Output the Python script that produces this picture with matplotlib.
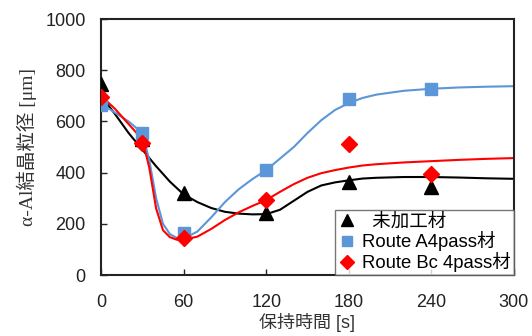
import matplotlib
matplotlib.use('Agg')
import matplotlib.pyplot as plt

# measured points
t_pts = [0, 30, 60, 120, 180, 240]
raw_pts = [745, 530, 320, 242, 363, 344]
route_a_pts = [664, 555, 164, 410, 688, 727]
route_bc_pts = [695, 516, 144, 293, 512, 395]

# fitted curves
t_black = [0, 10, 20, 30, 40, 50, 60, 70, 80, 90, 100, 110, 120, 130, 140,
           150, 160, 170, 180, 190, 200, 220, 240, 260, 280, 300]
v_black = [700, 630, 555, 490, 425, 365, 315, 285, 262, 247, 240, 237, 238,
           255, 290, 325, 350, 362, 370, 377, 380, 383, 383, 381, 378, 376]

t_blue = [0, 10, 20, 30, 35, 40, 45, 50, 55, 60, 70, 80, 90, 100, 110, 120,
          130, 140, 150, 160, 170, 180, 190, 200, 220, 240, 260, 280, 300]
v_blue = [670, 635, 600, 555, 450, 300, 200, 160, 145, 142, 170, 225, 285,
          335, 375, 410, 455, 500, 555, 605, 645, 672, 692, 705, 720, 728,
          733, 736, 738]

t_red = [0, 10, 20, 30, 35, 40, 45, 50, 55, 60, 70, 80, 90, 100, 110, 120,
         130, 140, 150, 160, 170, 180, 190, 200, 220, 240, 260, 280, 300]
v_red = [700, 650, 590, 530, 420, 260, 175, 148, 138, 138, 150, 180, 215,
         245, 270, 293, 325, 355, 380, 398, 410, 420, 428, 433, 440, 445,
         450, 454, 457]

BLUE = '#5b96d8'
RED = '#ff0000'

plt.rcParams['font.family'] = ['Liberation Sans', 'Noto Sans CJK JP']

fig = plt.figure(figsize=(5.32, 3.36), dpi=100)
ax = fig.add_axes([0.19, 0.1815, 0.776, 0.7615])

ax.plot(t_black, v_black, color='black', lw=1.5, zorder=2)
ax.plot(t_blue, v_blue, color=BLUE, lw=1.5, zorder=2)
ax.plot(t_red, v_red, color=RED, lw=1.5, zorder=2)

ax.plot(t_pts, raw_pts, '^', color='black', ms=10, ls='none', zorder=3,
        label='  未加工材')
ax.plot(t_pts, route_a_pts, 's', color=BLUE, ms=8.5, ls='none', zorder=4,
        label='Route A4pass材')
ax.plot(t_pts, route_bc_pts, 'D', color=RED, ms=8, ls='none', zorder=5,
        label='Route Bc 4pass材')

ax.set_xlim(0, 300)
ax.set_ylim(0, 1000)
ax.set_xticks([0, 60, 120, 180, 240, 300])
ax.set_yticks([0, 200, 400, 600, 800, 1000])
ax.tick_params(direction='in', labelsize=13, length=4, width=1,
               colors='#222222')
ax.tick_params(axis='x', pad=14)
ax.tick_params(axis='y', pad=11)
for s in ax.spines.values():
    s.set_linewidth(1.5)
    s.set_color('#222222')

ax.set_xlabel('保持時間 [s]', fontsize=13, labelpad=1, color='#333333')
ax.set_ylabel('α-Al結晶粒径 [μm]', fontsize=14, labelpad=6, color='#333333',
              family=['Liberation Serif', 'Noto Sans CJK JP'])

leg = ax.legend(loc='lower right', fontsize=13.3, frameon=True, fancybox=False,
                borderpad=0.15, handletextpad=0.35, labelspacing=0.05,
                handlelength=1.0, borderaxespad=0.0, markerscale=0.85)
leg.get_frame().set_edgecolor('#555555')
leg.get_frame().set_linewidth(1)

fig.savefig('out.png', dpi=100)
